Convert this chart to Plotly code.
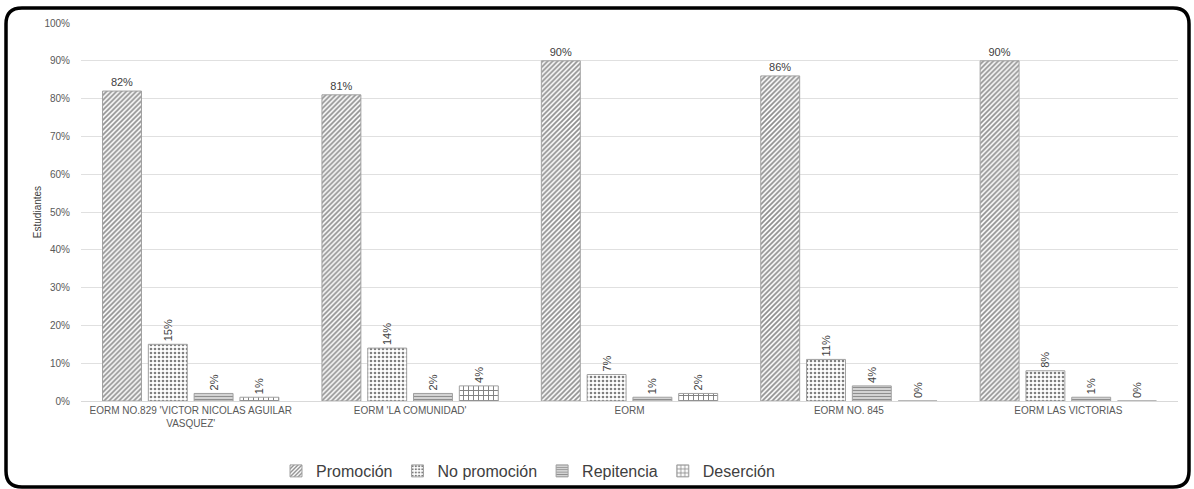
import plotly.graph_objects as go

categories = ["EORM NO.829 'VICTOR NICOLAS AGUILAR<br>VASQUEZ'", "EORM 'LA COMUNIDAD'", "EORM", "EORM NO. 845", "EORM LAS VICTORIAS"]
promocion = [82, 81, 90, 86, 90]
no_promocion = [15, 14, 7, 11, 8]
repitencia = [2, 2, 1, 4, 1]
desercion = [1, 4, 2, 0, 0]
y_ticks = [0, 10, 20, 30, 40, 50, 60, 70, 80, 90, 100]

series = [
    ("Promoción", promocion, "/", 0, 3.5, 0.5, "#202020"),
    ("No promoción", no_promocion, ".", -90, 4, 0.35, "#000000"),
    ("Repitencia", repitencia, "-", -90, 3, 0.6, "#202020"),
    ("Deserción", desercion, "+", -90, 5, 0.35, "#000000"),
]

fig = go.Figure()
for name, vals, shape, ang, sz, sol, fg in series:
    fig.add_trace(go.Bar(
        name=name, x=categories, y=vals,
        text=[f"{v}%" for v in vals], textposition="outside", textangle=ang,
        textfont=dict(size=11, color="#404040", family="Liberation Sans"),
        cliponaxis=False,
        marker=dict(color="white", line=dict(color="#a0a0a0", width=1),
                    pattern=dict(shape=shape, fgcolor=fg, bgcolor="white",
                                 size=sz, solidity=sol)),
    ))

W, H = 1194, 489
l, r, t, b = 81, 16, 23, 88
pw, ph = W - l - r, H - t - b
def px(x): return (x - l) / pw
def py(y): return (H - b - y) / ph
x0, x1, y0, y1, rad = 6, 1189, 8, 487, 16
path = (f"M {px(x0+rad)},{py(y0)} L {px(x1-rad)},{py(y0)} Q {px(x1)},{py(y0)} {px(x1)},{py(y0+rad)} "
        f"L {px(x1)},{py(y1-rad)} Q {px(x1)},{py(y1)} {px(x1-rad)},{py(y1)} "
        f"L {px(x0+rad)},{py(y1)} Q {px(x0)},{py(y1)} {px(x0)},{py(y1-rad)} "
        f"L {px(x0)},{py(y0+rad)} Q {px(x0)},{py(y0)} {px(x0+rad)},{py(y0)} Z")

fig.update_layout(
    width=W, height=H, margin=dict(l=l, r=r, t=t, b=b, autoexpand=False),
    paper_bgcolor="white", plot_bgcolor="white",
    barmode="group", bargap=0.165, bargroupgap=0.15,
    font=dict(family="Liberation Sans", color="#595959"),
    showlegend=True,
    legend=dict(orientation="h", x=px(528), xanchor="center", y=py(454), yanchor="top",
                bgcolor="rgba(0,0,0,0)",
                font=dict(size=16, color="#404040"), itemwidth=30, traceorder="normal"),
    xaxis=dict(tickfont=dict(size=10, color="#595959"), showline=True, linecolor="#d9d9d9",
               ticks="", automargin=False),
    yaxis=dict(range=[0, 100], tickvals=y_ticks, ticktext=[f"{v}%" for v in y_ticks],
               tickfont=dict(size=10, color="#595959"), showgrid=True, gridcolor="#e0e0e0",
               zeroline=False, automargin=False, ticklen=8, ticks="outside", tickcolor="white",
               title=dict(text="Estudiantes", font=dict(size=10, color="#404040"), standoff=0)),
    shapes=[dict(type="path", xref="paper", yref="paper", path=path,
                 line=dict(color="black", width=3.5), layer="above")],
)
fig.write_html("out.html", config={"displayModeBar": False},
               post_script="document.body.style.margin='0px';document.body.style.overflow='hidden';")
